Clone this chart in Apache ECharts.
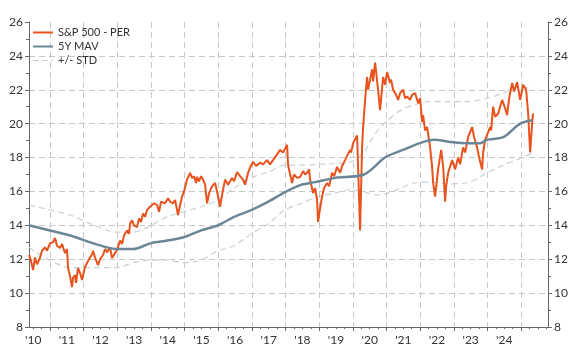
<!DOCTYPE html>
<html>
<head>
<meta charset="utf-8">
<script src="https://cdn.jsdelivr.net/npm/echarts@6/dist/echarts.min.js"></script>
<style>
  html, body { margin: 0; padding: 0; background: #fff; }
  #chart { width: 577px; height: 354px; }
</style>
</head>
<body>
<div id="chart"></div>
<script>
// dates are decimal years
var perDates = [
  2010.376, 2010.435, 2010.495, 2010.554, 2010.614, 2010.703, 2010.762, 2010.851, 2010.911, 2011.000,
  2011.089, 2011.149, 2011.208, 2011.297, 2011.357, 2011.446, 2011.505, 2011.535, 2011.595, 2011.654,
  2011.684, 2011.743, 2011.773, 2011.832, 2011.892, 2011.951, 2012.011, 2012.040, 2012.130, 2012.189,
  2012.249, 2012.278, 2012.338, 2012.397, 2012.427, 2012.486, 2012.575, 2012.635, 2012.694, 2012.784,
  2012.843, 2012.932, 2012.992, 2013.081, 2013.140, 2013.200, 2013.289, 2013.348, 2013.378, 2013.438,
  2013.497, 2013.586, 2013.646, 2013.705, 2013.765, 2013.824, 2013.884, 2013.973, 2014.032, 2014.092,
  2014.181, 2014.240, 2014.300, 2014.359, 2014.419, 2014.508, 2014.567, 2014.656, 2014.716, 2014.805,
  2014.865, 2014.924, 2014.983, 2015.073, 2015.162, 2015.221, 2015.281, 2015.340, 2015.370, 2015.429,
  2015.489, 2015.548, 2015.608, 2015.667, 2015.727, 2015.816, 2015.905, 2015.964, 2016.054, 2016.113,
  2016.202, 2016.291, 2016.410, 2016.470, 2016.559, 2016.648, 2016.737, 2016.797, 2016.886, 2016.945,
  2017.035, 2017.124, 2017.243, 2017.332, 2017.451, 2017.540, 2017.629, 2017.718, 2017.837, 2017.926,
  2018.045, 2018.075, 2018.194, 2018.253, 2018.343, 2018.432, 2018.521, 2018.580, 2018.640, 2018.699,
  2018.729, 2018.818, 2018.878, 2018.937, 2018.967, 2019.026, 2019.086, 2019.145, 2019.234, 2019.294,
  2019.383, 2019.443, 2019.532, 2019.621, 2019.681, 2019.769, 2019.829, 2019.918, 2019.948, 2020.007,
  2020.126, 2020.156, 2020.215, 2020.275, 2020.305, 2020.364, 2020.424, 2020.453, 2020.513, 2020.572,
  2020.602, 2020.661, 2020.750, 2020.810, 2020.899, 2020.959, 2021.018, 2021.107, 2021.137, 2021.196,
  2021.286, 2021.345, 2021.404, 2021.494, 2021.553, 2021.613, 2021.702, 2021.761, 2021.851, 2021.940,
  2021.999, 2022.059, 2022.088, 2022.148, 2022.207, 2022.296, 2022.356, 2022.386, 2022.445, 2022.534,
  2022.624, 2022.683, 2022.743, 2022.772, 2022.832, 2022.950, 2023.039, 2023.129, 2023.188, 2023.277,
  2023.337, 2023.426, 2023.545, 2023.604, 2023.693, 2023.753, 2023.842, 2023.872, 2023.931, 2024.080,
  2024.110, 2024.169, 2024.229, 2024.318, 2024.377, 2024.437, 2024.526, 2024.585, 2024.645, 2024.734,
  2024.793, 2024.882, 2024.972, 2025.061, 2025.150, 2025.210, 2025.269, 2025.328, 2025.358];
var perValues = [
  12.25, 11.9, 11.36, 12.1, 11.7, 12.1, 12.5, 12.7, 12.5, 12.95,
  13.0, 13.25, 12.8, 12.66, 12.9, 12.36, 12.6, 11.5, 11.0, 10.35,
  10.9, 11.06, 10.6, 11.48, 11.2, 10.77, 11.3, 11.54, 11.9, 11.83,
  12.3, 12.5, 12.1, 12.0, 11.65, 12.0, 12.25, 12.6, 12.42, 12.7,
  12.07, 12.36, 12.54, 13.1, 12.9, 13.4, 13.7, 13.5, 14.1, 14.3,
  14.0, 13.9, 14.4, 14.2, 14.7, 14.5, 14.9, 15.1, 15.0, 15.3,
  15.2, 14.8, 15.4, 15.5, 15.3, 15.6, 15.4, 15.3, 15.5, 14.6,
  15.2, 15.7, 16.0, 16.7, 17.1, 16.8, 16.9, 16.5, 16.85, 16.6,
  16.9, 16.7, 16.4, 15.3, 15.9, 16.3, 16.5, 16.0, 15.1, 15.8,
  16.7, 16.4, 16.8, 16.6, 17.15, 16.9, 16.7, 16.4, 17.1, 17.4,
  17.75, 17.5, 17.7, 17.6, 17.85, 17.6, 17.85, 18.1, 18.45, 18.3,
  18.75, 17.55, 16.5, 17.0, 16.8, 16.85, 17.2, 17.0, 17.1, 17.3,
  16.7, 15.9, 16.2, 15.5, 14.2, 15.0, 15.7, 16.2, 16.5, 16.3,
  17.1, 16.9, 17.45, 17.1, 17.5, 17.85, 18.1, 18.45, 18.3, 18.85,
  19.3, 17.4, 13.7, 18.6, 19.8, 21.4, 22.75, 22.0, 22.6, 23.2,
  22.5, 23.6, 22.0, 20.8, 22.75, 22.3, 23.05, 22.4, 22.6, 22.0,
  21.7, 21.4, 21.8, 22.0, 21.5, 21.6, 21.4, 21.7, 21.8, 21.2,
  21.5, 20.1, 20.5, 19.6, 19.8, 18.6, 17.45, 16.5, 15.7, 17.3,
  18.45, 17.5, 15.4, 16.3, 17.1, 17.85, 17.3, 18.0, 17.6, 18.6,
  18.3, 19.2, 19.8, 19.2, 18.6, 18.0, 17.3, 18.3, 19.05, 19.8,
  19.6, 21.0, 20.4, 20.6, 21.0, 21.4, 20.9, 20.5, 21.5, 22.4,
  21.9, 22.45, 21.4, 22.3, 22.0, 20.6, 18.3, 20.0, 20.6];

var mavDates = [2010.376, 2011.0, 2011.6, 2012.19, 2012.69, 2012.99, 2013.47, 2014.0, 2014.48, 2014.98,
  2015.49, 2015.99, 2016.47, 2016.98, 2017.49, 2017.97, 2018.48, 2018.88, 2019.47, 2020.33,
  2020.96, 2021.49, 2021.99, 2022.39, 2022.98, 2023.38, 2023.79, 2023.99, 2024.47, 2024.97, 2025.33];
var mavValues = [14.0, 13.7, 13.4, 13.0, 12.7, 12.6, 12.6, 12.95, 13.1, 13.3,
  13.7, 14.0, 14.5, 14.9, 15.4, 15.95, 16.4, 16.55, 16.8, 17.0,
  18.0, 18.45, 18.85, 19.05, 18.9, 18.85, 18.85, 19.05, 19.2, 20.0, 20.2];

var stdDates = [2010.376, 2011.6, 2012.19, 2012.99, 2013.49, 2014.0, 2014.48, 2014.98, 2015.49, 2015.99,
  2016.47, 2016.98, 2017.49, 2017.97, 2018.48, 2018.97, 2019.47, 2019.86, 2020.3, 2020.66,
  2021.04, 2021.43, 2021.82, 2022.24, 2022.83, 2023.38, 2023.99, 2024.47, 2024.97, 2025.33];
var stdUpper = [15.2, 14.6, 14.1, 13.6, 13.6, 14.0, 14.5, 14.8, 15.1, 15.5,
  16.2, 16.8, 17.15, 17.55, 17.55, 17.6, 17.65, 17.7, 18.25, 19.4,
  20.2, 20.8, 21.1, 21.3, 21.3, 21.3, 21.5, 21.8, 22.15, 22.1];
var stdLower = [12.7, 11.5, 11.5, 11.5, 11.8, 11.95, 11.95, 11.8, 11.95, 12.5,
  12.8, 13.5, 14.1, 14.9, 15.3, 15.7, 15.9, 16.1, 16.0, 15.8,
  15.9, 16.2, 16.5, 16.55, 16.45, 16.5, 17.1, 17.55, 17.95, 18.25];

var yearTicks = [2011, 2012, 2013, 2014, 2015, 2016, 2017, 2018, 2019, 2020, 2021, 2022, 2023, 2024, 2025];
var yearLabels = [2010.5, 2011.5, 2012.5, 2013.5, 2014.5, 2015.5, 2016.5, 2017.5, 2018.5, 2019.5,
  2020.5, 2021.5, 2022.5, 2023.5, 2024.5];

function pairs(xs, ys) {
  return xs.map(function (x, i) { return [x, ys[i]]; });
}

var quarterTicks = [];
for (var q = 2010.5; q < 2025.8; q += 0.25) quarterTicks.push(q);

var chart = echarts.init(document.getElementById('chart'));
var font = 'Lato';
var textColor = '#333';
var axisColor = '#666';
var gridColor = '#c8c8c8';
var orange = '#e8521c';
var slate = '#6b8694';
var stdColor = '#c5d1d9';

var yAxisBase = {
  type: 'value',
  min: 8,
  max: 26,
  interval: 2,
  axisLine: { show: true, lineStyle: { color: axisColor } },
  axisTick: { show: true, length: 4, lineStyle: { color: axisColor } },
  minorTick: { show: true, splitNumber: 2, length: 3, lineStyle: { color: axisColor } },
  axisLabel: { color: textColor, fontFamily: font, fontSize: 12, margin: 6 }
};

chart.setOption({
  animation: false,
  grid: { left: 29, right: 29, top: 22, bottom: 27 },
  legend: {
    left: 28,
    top: 21,
    orient: 'vertical',
    itemWidth: 20,
    itemHeight: 2,
    itemGap: 1,
    textStyle: { color: textColor, fontFamily: font, fontSize: 11, lineHeight: 13 },
    data: [
      { name: 'S&P 500 - PER', icon: 'rect' },
      { name: '5Y MAV', icon: 'rect' },
      { name: '+/- STD', icon: 'path://M0,0H6V1H0Z M9,0H15V1H9Z M18,0H20V1H18Z' }
    ]
  },
  xAxis: [{
    type: 'value',
    min: 2010.375,
    max: 2025.8,
    axisLine: { show: true, onZero: false, lineStyle: { color: axisColor } },
    axisTick: { show: true, length: 4, customValues: yearTicks, lineStyle: { color: axisColor } },
    splitLine: { show: true, lineStyle: { color: gridColor, type: [6, 4], width: 1 } },
    axisLabel: {
      color: textColor, fontFamily: font, fontSize: 12, margin: 7,
      customValues: yearLabels,
      formatter: function (v) { return "'" + String(Math.floor(v)).slice(2); }
    }
  }, {
    type: 'value',
    position: 'bottom',
    min: 2010.375,
    max: 2025.8,
    axisLine: { show: false },
    axisTick: { show: true, length: 2, customValues: quarterTicks, lineStyle: { color: axisColor } },
    splitLine: { show: false },
    axisLabel: { show: false }
  }],
  yAxis: [
    Object.assign({}, yAxisBase, {
      position: 'left',
      splitLine: {
        show: true, showMinLine: false, showMaxLine: false,
        lineStyle: { color: gridColor, type: [6, 4], width: 1 }
      }
    }),
    Object.assign({}, yAxisBase, { position: 'right', splitLine: { show: false } })
  ],
  series: [
    {
      name: '+/- STD', type: 'line', symbol: 'none', smooth: 0.3,
      lineStyle: { color: stdColor, width: 1.2, type: [6, 4] },
      itemStyle: { color: stdColor },
      data: pairs(stdDates, stdUpper)
    },
    {
      name: '+/- STD', type: 'line', symbol: 'none', smooth: 0.3,
      lineStyle: { color: stdColor, width: 1.2, type: [6, 4] },
      itemStyle: { color: stdColor },
      data: pairs(stdDates, stdLower)
    },
    {
      name: 'S&P 500 - PER', type: 'line', symbol: 'none',
      lineStyle: { color: orange, width: 2 },
      itemStyle: { color: orange },
      data: pairs(perDates, perValues)
    },
    {
      name: '5Y MAV', type: 'line', symbol: 'none', smooth: 0.3,
      lineStyle: { color: slate, width: 2.5 },
      itemStyle: { color: slate },
      data: pairs(mavDates, mavValues)
    }
  ]
});
</script>
</body>
</html>
